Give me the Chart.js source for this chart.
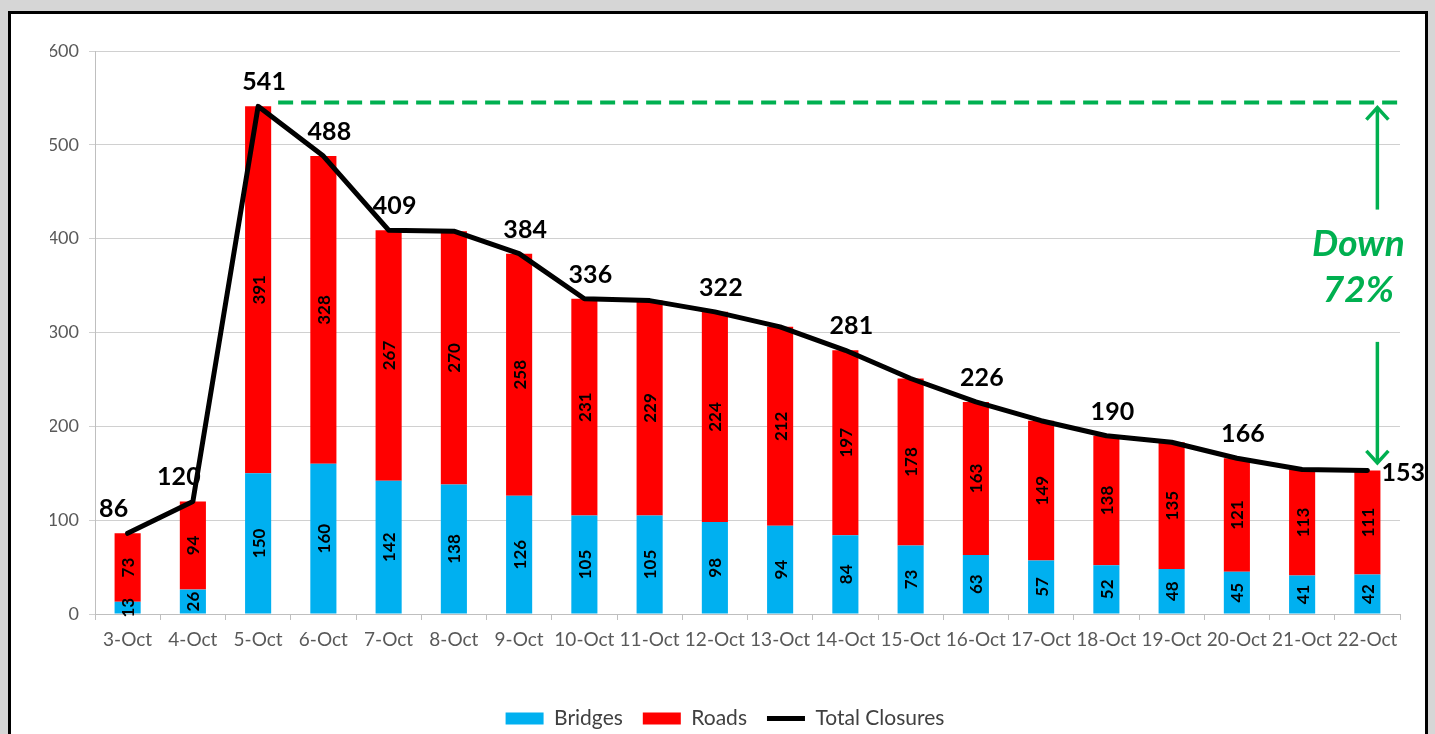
<!DOCTYPE html>
<html>
<head>
<meta charset="utf-8">
<script src="https://cdn.jsdelivr.net/npm/chart.js@4.4.1/dist/chart.umd.min.js"></script>
<style>
  html, body { margin: 0; padding: 0; background: #d6d6d6; overflow: hidden; }
  #frame { position: absolute; left: 8px; top: 11px; width: 1414px; height: 760px; border: 3px solid #000; background: #fff; }
  #wrap { position: absolute; left: 0; top: 0; width: 1435px; height: 739px; }
</style>
</head>
<body>
<div id="frame"></div>
<div id="wrap"><canvas id="chart"></canvas></div>
<script>
const days = ["3-Oct", "4-Oct", "5-Oct", "6-Oct", "7-Oct", "8-Oct", "9-Oct", "10-Oct", "11-Oct", "12-Oct",
  "13-Oct", "14-Oct", "15-Oct", "16-Oct", "17-Oct", "18-Oct", "19-Oct", "20-Oct", "21-Oct", "22-Oct"]
const bridges = [13, 26, 150, 160, 142, 138, 126, 105, 105, 98, 94, 84, 73, 63, 57, 52, 48, 45, 41, 42]
const roads = [73, 94, 391, 328, 267, 270, 258, 231, 229, 224, 212, 197, 178, 163, 149, 138, 135, 121, 113, 111]
const totals = [86, 120, 541, 488, 409, 408, 384, 336, 334, 322, 306, 281, 251, 226, 206, 190, 183, 166, 154, 153]
const totalShown = [1, 1, 1, 1, 1, 0, 1, 1, 0, 1, 0, 1, 0, 1, 0, 1, 0, 1, 0, 1]
const peakLevel = 545
const downText = ["Down", "72%"]

const FONT = "Lato, 'Liberation Sans', sans-serif"
const GREEN = "#00b050"

const barLabels = {
  id: "barLabels",
  afterDatasetsDraw(chart) {
    const ctx = chart.ctx
    ctx.save()
    ctx.fillStyle = "#000"
    ctx.font = "bold 17px " + FONT
    ctx.textAlign = "center"
    ctx.textBaseline = "middle"
    ;[0, 1].forEach(di => {
      chart.getDatasetMeta(di).data.forEach((bar, i) => {
        const v = chart.data.datasets[di].data[i]
        const cy = (bar.y + bar.base) / 2
        ctx.save()
        ctx.translate(bar.x, cy)
        ctx.rotate(-Math.PI / 2)
        ctx.fillText(String(v), 0, 1)
        ctx.restore()
      })
    })
    // totals above the line
    ctx.font = "bold 25px " + FONT
    const line = chart.getDatasetMeta(2).data
    const last = line.length - 1
    line.forEach((pt, i) => {
      if (!totalShown[i]) return
      if (i === last) {
        ctx.textAlign = "left"
        ctx.fillText(String(totals[i]), pt.x + 14, pt.y + 3)
      } else {
        ctx.textAlign = "center"
        const dx = totals[i + 1] > totals[i] ? -14 : 6
        ctx.fillText(String(totals[i]), pt.x + dx, pt.y - 24)
      }
    })
    ctx.restore()
  }
}

function arrowHead(ctx, x, y, dir) {
  ctx.beginPath()
  ctx.moveTo(x - 11, y - dir * 12)
  ctx.lineTo(x, y)
  ctx.lineTo(x + 11, y - dir * 12)
  ctx.stroke()
}

const dropNote = {
  id: "dropNote",
  afterDatasetsDraw(chart) {
    const { ctx, chartArea, scales: { x, y } } = chart
    const py = y.getPixelForValue(peakLevel)
    ctx.save()
    ctx.strokeStyle = GREEN
    ctx.lineWidth = 4
    ctx.setLineDash([15, 8])
    ctx.beginPath()
    ctx.moveTo(x.getPixelForValue(2) + 20, py)
    ctx.lineTo(chartArea.right + 2, py)
    ctx.stroke()
    ctx.setLineDash([])

    const ax = x.getPixelForValue(days.length - 1) + 10
    ctx.lineWidth = 3.5
    ctx.lineJoin = "miter"
    // up arrow
    const upTop = py + 5, upBot = y.getPixelForValue(431)
    ctx.beginPath(); ctx.moveTo(ax, upBot); ctx.lineTo(ax, upTop); ctx.stroke()
    arrowHead(ctx, ax, upTop, -1)
    // down arrow
    const dnTop = y.getPixelForValue(290), dnBot = y.getPixelForValue(totals[totals.length - 1] + 8)
    ctx.beginPath(); ctx.moveTo(ax, dnTop); ctx.lineTo(ax, dnBot); ctx.stroke()
    arrowHead(ctx, ax, dnBot, 1)

    ctx.fillStyle = GREEN
    ctx.font = "italic bold 37px " + FONT
    ctx.textAlign = "center"
    ctx.textBaseline = "middle"
    ctx.fillText(downText[0], ax - 19, y.getPixelForValue(394))
    ctx.fillText(downText[1], ax - 19, y.getPixelForValue(345))
    ctx.restore()
  }
}

new Chart(document.getElementById("chart"), {
  data: {
    labels: days,
    datasets: [
      { type: "bar", label: "Bridges", data: bridges, backgroundColor: "#00b0f0", stack: "s",
        barPercentage: 0.8, categoryPercentage: 0.5, pointStyle: "rect", order: 2 },
      { type: "bar", label: "Roads", data: roads, backgroundColor: "#ff0000", stack: "s",
        barPercentage: 0.8, categoryPercentage: 0.5, pointStyle: "rect", order: 2 },
      { type: "line", label: "Total Closures", data: totals, borderColor: "#000", backgroundColor: "#000",
        borderWidth: 5, pointRadius: 0, tension: 0, borderJoinStyle: "round", borderCapStyle: "round",
        pointStyle: "line", order: 1 },
    ],
  },
  options: {
    responsive: true,
    maintainAspectRatio: false,
    animation: false,
    layout: { padding: { left: 50, right: 35, top: 51, bottom: 0 } },
    plugins: {
      tooltip: { enabled: false },
      legend: {
        position: "bottom",
        labels: {
          usePointStyle: true, pointStyleWidth: 38, boxHeight: 12, padding: 20,
          color: "#404040", font: { family: FONT, size: 21 },
          sort: (a, b) => a.datasetIndex - b.datasetIndex,
        },
      },
    },
    scales: {
      x: {
        stacked: true,
        grid: { offset: true, drawOnChartArea: false, color: "#bfbfbf", tickLength: 6 },
        border: { color: "#bfbfbf", width: 1 },
        ticks: { color: "#595959", font: { family: FONT, size: 19 }, maxRotation: 0, padding: 8 },
        afterFit: s => { s.height = 74 },
      },
      y: {
        stacked: true,
        min: 0, max: 600,
        ticks: { stepSize: 100, color: "#595959", font: { family: FONT, size: 18 }, padding: 10 },
        grid: { color: "#d0d0d0", tickLength: 6 },
        border: { color: "#bfbfbf", width: 1 },
        afterFit: s => { s.width = 45 },
      },
    },
  },
  plugins: [barLabels, dropNote],
})
</script>
</body>
</html>
